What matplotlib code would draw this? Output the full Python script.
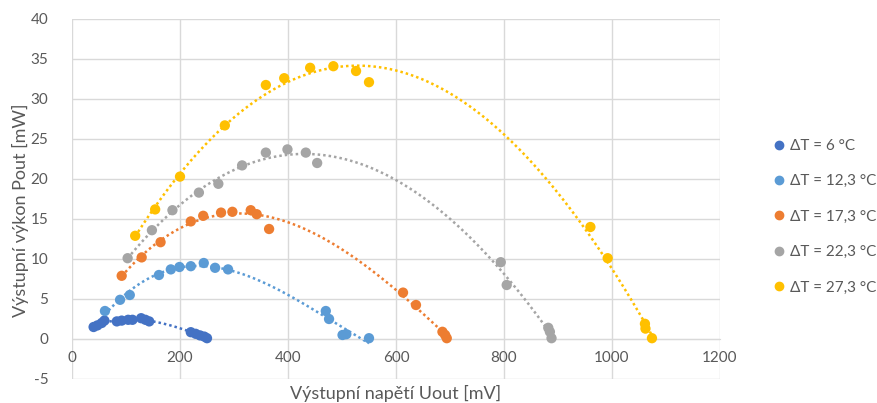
import numpy as np
import matplotlib
matplotlib.use("Agg")
import matplotlib.pyplot as plt

plt.rcParams['font.family'] = ['Lato', 'DejaVu Sans']
plt.rcParams['axes.unicode_minus'] = False

# Output voltage [mV] and output power [mW] for each temperature difference
labels = ["ΔT = 6 °C", "ΔT = 12,3 °C", "ΔT = 17,3 °C", "ΔT = 22,3 °C", "ΔT = 27,3 °C"]
colors = ["#4472C4", "#5B9BD5", "#ED7D31", "#A5A5A5", "#FFC000"]

u_6 = [40, 47, 55, 60, 83, 92, 104, 112, 128, 136, 143, 220, 229, 237, 245, 250]
p_6 = [1.5, 1.7, 2.0, 2.3, 2.2, 2.3, 2.4, 2.4, 2.6, 2.4, 2.2, 0.85, 0.65, 0.45, 0.3, 0.1]

u_12 = [61, 89, 107, 161, 183, 199, 220, 244, 265, 289, 470, 476, 501, 508, 550]
p_12 = [3.5, 4.9, 5.5, 8.0, 8.7, 9.0, 9.1, 9.5, 8.9, 8.7, 3.5, 2.5, 0.5, 0.6, 0.1]

u_17 = [92, 129, 164, 220, 243, 276, 297, 331, 342, 365, 613, 637, 686, 691, 694]
p_17 = [7.9, 10.2, 12.1, 14.7, 15.4, 15.8, 15.9, 16.1, 15.6, 13.75, 5.8, 4.25, 0.9, 0.5, 0.1]

u_22 = [103, 148, 186, 235, 271, 315, 359, 399, 433, 454, 794, 805, 882, 885, 888]
p_22 = [10.1, 13.6, 16.1, 18.3, 19.4, 21.7, 23.3, 23.7, 23.3, 22.0, 9.6, 6.75, 1.4, 0.9, 0.1]

u_27 = [117, 154, 200, 283, 359, 393, 441, 484, 526, 550, 960, 992, 1061, 1062, 1074]
p_27 = [12.9, 16.2, 20.3, 26.7, 31.75, 32.6, 33.9, 34.1, 33.5, 32.1, 14.0, 10.1, 1.9, 1.3, 0.1]

series_u = [u_6, u_12, u_17, u_22, u_27]
series_p = [p_6, p_12, p_17, p_22, p_27]

x_ticks = [0, 200, 400, 600, 800, 1000, 1200]
y_ticks = [-5, 0, 5, 10, 15, 20, 25, 30, 35, 40]

text_color = "#595959"
grid_color = "#D9D9D9"

fig = plt.figure(figsize=(8.77, 4.03), dpi=100)
ax = fig.add_axes([72 / 877, 1 - 379 / 403, 648 / 877, 360 / 403])

for u, p, c, lab in zip(series_u, series_p, colors, labels):
    u = np.asarray(u, float)
    p = np.asarray(p, float)
    # polynomial trendline over the measured range
    coef = np.polyfit(u, p, 3)
    xs = np.linspace(u.min(), u.max(), 300)
    ax.plot(xs, np.polyval(coef, xs), color=c, lw=1.8,
            linestyle=(0, (1, 1.2)), zorder=2)
    ax.scatter(u, p, s=55, color=c, edgecolors='none', zorder=3, label=lab)

ax.set_xlim(0, 1200)
ax.set_ylim(-5, 40)
ax.set_xticks(x_ticks)
ax.set_yticks(y_ticks)
ax.grid(True, color=grid_color, lw=1)
ax.set_axisbelow(True)

for side in ['top', 'right', 'left']:
    ax.spines[side].set_visible(False)
ax.spines['bottom'].set_position(('data', 0))
ax.spines['bottom'].set_color(grid_color)
ax.tick_params(axis='both', length=0, labelsize=11, labelcolor=text_color)
ax.tick_params(axis='x', pad=9)
ax.tick_params(axis='y', pad=17)

fig.text(396 / 877, 1 - 393 / 403, "Výstupní napětí Uout [mV]", ha='center',
         va='center', fontsize=13, color=text_color)
fig.text(20 / 877, 1 - 210 / 403, "Výstupní výkon Pout [mW]", ha='center',
         va='center', fontsize=13, color=text_color, rotation=90)

handles = [plt.Line2D([], [], marker='o', ls='none', color=c, markersize=6)
           for c in colors]
fig.legend(handles, labels, loc='upper left', bbox_to_anchor=(774 / 877, 1 - 139 / 403),
           frameon=False, fontsize=11, labelcolor=text_color, handlelength=0.6,
           handletextpad=0.45, labelspacing=1.4, borderpad=0, borderaxespad=0)

fig.savefig("out.png", dpi=100, facecolor='white')
